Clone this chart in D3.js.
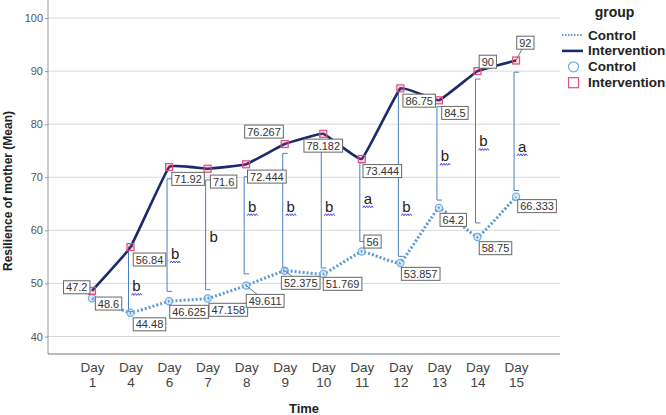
<!DOCTYPE html>
<html>
<head>
<meta charset="utf-8">
<script src="https://cdn.jsdelivr.net/npm/d3@7"></script>
<style>
body{margin:0;background:#fff;}
svg{display:block;font-family:"Liberation Sans",Arial,sans-serif;}
</style>
</head>
<body>
<div id="chart"></div>
<script>
(function(){
"use strict"

//---data---
var days = ["1","4","6","7","8","9","10","11","12","13","14","15"];
var control = [47.2,44.48,46.625,47.158,49.611,52.375,51.769,56,53.857,64.2,58.75,66.333];
var intervention = [48.6,56.84,71.92,71.6,72.444,76.267,78.182,73.444,86.75,84.5,90,92];
var yTicks = [40,50,60,70,80,90,100];

//significance letters, the span of each bracket and where the letter sits (in mean units)
var sigLetter = [null,"b","b","b","b","b","b","a","b","b","b","a"];
var sigMark = [false,true,true,false,true,true,true,true,true,true,true,true];
var bracketTop = [null,56.9,69.7,69.5,70.1,74.5,76,72.7,86.5,83.3,88.5,89.8];
var bracketBottom = [null,44.7,48.5,48.8,51.8,52.9,52.9,57.9,55.1,65.7,61.4,67.5];
var letterAt = [null,48.5,54.6,57.8,63.5,63.5,63.5,65,63.5,73,75.8,74.8];

//label box offsets from the point (px), third item = draw a leader
var ctrlOff = [[-15.2,-11],[19,11.6],[20,10.5],[20.7,11.3],[19,15.4,1],[16,12,1],[19.3,9.8],[10.7,-10],[20.3,10.9],[14.3,11.8],[18,11.2],[21,9.4]];
var intOff = [[16.6,12.7],[19,12.4],[19,11.8],[16,12.8],[20.7,12.3],[-20.7,-12.4],[0,11.8],[20.5,12.1],[18.8,12.3],[16,12.6],[10.3,-9.4],[9.3,-17.8,1]];

var W = 666, H = 415,
	plot = {left:48, right:560, top:0, bottom:354};

var ctrlCol = "#5b9bd5",
	intCol = "#1b2a6b",
	sqCol = "#e0507e",
	circCol = "#72aee6",
	bracketCol = "#4f7fbf";

var svg = d3.select('#chart').append('svg')
	.attr('width',W)
	.attr('height',H);

var x = d3.scalePoint().domain(days).range([plot.left,plot.right]).padding(1.14);
var y = d3.scaleLinear().domain([36.7,103.4]).range([plot.bottom,plot.top]);

//grid
svg.append('g').selectAll('line')
	.data(yTicks)
	.enter().append('line')
		.attr('x1',plot.left).attr('x2',plot.right)
		.attr('y1',function(d){return y(d);}).attr('y2',function(d){return y(d);})
		.style('stroke','#d9d9d9').style('stroke-width',1);

//y axis
var yAxis = svg.append('g')
	.attr('transform','translate('+plot.left+',0)')
	.call(d3.axisLeft(y).tickValues(yTicks).tickSize(3).tickFormat(d3.format('d')));
yAxis.select('.domain').remove();
yAxis.selectAll('.tick line').style('stroke','#999');
yAxis.selectAll('.tick text')
	.attr('x',-5)
	.style('font-family','"Liberation Sans",Arial,sans-serif')
	.style('font-size','11px').style('fill','#555');

//x axis
var xAxis = svg.append('g')
	.attr('transform','translate(0,'+plot.bottom+')')
	.call(d3.axisBottom(x).tickSize(0));
xAxis.select('.domain').remove();
xAxis.selectAll('.tick text').each(function(d){
	var t = d3.select(this).text('').attr('y',0).attr('dy',null)
		.style('font-family','"Liberation Sans",Arial,sans-serif')
		.style('font-size','13.5px').style('fill','#444');
	t.append('tspan').attr('x',0).attr('y',18).text('Day');
	t.append('tspan').attr('x',0).attr('y',32.5).text(d);
});

//frame lines
svg.append('line')
	.attr('x1',plot.left).attr('x2',plot.left)
	.attr('y1',plot.top).attr('y2',plot.bottom)
	.style('stroke','#999');
svg.append('line')
	.attr('x1',plot.left).attr('x2',plot.right)
	.attr('y1',plot.bottom).attr('y2',plot.bottom)
	.style('stroke','#777');

//brackets
var bIdx = d3.range(days.length).filter(function(i){return bracketTop[i]!==null;});
svg.append('g').selectAll('path')
	.data(bIdx)
	.enter().append('path')
		.attr('d',function(i){
			var bx = x(days[i])-2, t = y(bracketTop[i]), b = y(bracketBottom[i]);
			return 'M'+(bx+5)+','+t+'H'+bx+'V'+b+'H'+(bx+5);
		})
		.style('fill','none').style('stroke',bracketCol).style('stroke-width',1);

//lines
var line = function(vals){
	return d3.line()
		.x(function(d,i){return x(days[i]);})
		.y(function(d){return y(d);})
		.curve(d3.curveCardinal.tension(0.75))(vals);
};
svg.append('path')
	.attr('d',line(control))
	.style('fill','none').style('stroke',ctrlCol)
	.style('stroke-width',3).style('stroke-dasharray','2,2');
svg.append('path')
	.attr('d',line(intervention))
	.style('fill','none').style('stroke',intCol)
	.style('stroke-width',2.6);

//markers
svg.append('g').selectAll('circle')
	.data(control)
	.enter().append('circle')
		.attr('cx',function(d,i){return x(days[i]);})
		.attr('cy',function(d){return y(d);})
		.attr('r',3.6)
		.style('fill','rgba(114,174,230,0.25)').style('stroke',circCol).style('stroke-width',1.2);
svg.append('g').selectAll('rect')
	.data(intervention)
	.enter().append('rect')
		.attr('x',function(d,i){return x(days[i])-3.5;})
		.attr('y',function(d){return y(d)-3.5;})
		.attr('width',7).attr('height',7)
		.style('fill','rgba(224,80,126,0.2)').style('stroke',sqCol).style('stroke-width',1.2);

//letters
var lg = svg.append('g');
bIdx.forEach(function(i){
	var lx = x(days[i])+6, ly = y(letterAt[i]);
	lg.append('text')
		.attr('x',lx).attr('y',ly)
		.attr('text-anchor','middle')
		.style('font-size','15px').style('fill','#222')
		.text(sigLetter[i]);
	if (sigMark[i]){
		var pts = [];
		for (var k=0; k<=8; k++){pts.push([lx-5+k*1.3, ly+3+(k%2? -1 : 1)]);}
		lg.append('path')
			.attr('d',d3.line()(pts))
			.style('fill','none').style('stroke','#3a3ad8').style('stroke-width',0.9);
	}
});

//value labels
var labels = [];
control.forEach(function(v,i){labels.push({v:v,i:i,o:ctrlOff[i]});});
intervention.forEach(function(v,i){labels.push({v:v,i:i,o:intOff[i]});});

var leaders = svg.append('g');
var boxes = svg.append('g');
labels.forEach(function(l){
	var px = x(days[l.i]), py = y(l.v),
		cx = px+l.o[0], cy = py+l.o[1];
	if (l.o[2]){
		leaders.append('line')
			.attr('x1',px).attr('y1',py).attr('x2',cx).attr('y2',cy)
			.style('stroke','#555').style('stroke-width',0.8);
	}
	var g = boxes.append('g');
	var r = g.append('rect');
	var t = g.append('text')
		.attr('x',cx).attr('y',cy+4)
		.attr('text-anchor','middle')
		.style('font-size','11px').style('fill','#333')
		.text(String(l.v));
	var w = t.node().getComputedTextLength()+5;
	r.attr('x',cx-w/2).attr('y',cy-6.5)
		.attr('width',w).attr('height',13)
		.style('fill','#fff').style('stroke','#666').style('stroke-width',1);
});

//axis titles
svg.append('text')
	.attr('transform','translate(12,191) rotate(-90)')
	.attr('text-anchor','middle')
	.style('font-size','12px').style('font-weight','bold').style('fill','#222')
	.text('Resilience of mother (Mean)');
svg.append('text')
	.attr('x',304).attr('y',413)
	.attr('text-anchor','middle')
	.style('font-size','13px').style('font-weight','bold').style('fill','#222')
	.text('Time');

//legend
var leg = svg.append('g');
leg.append('text')
	.attr('x',614.5).attr('y',16.5)
	.attr('text-anchor','middle')
	.style('font-size','14px').style('font-weight','bold').style('fill','#222')
	.text('group');
var legItems = [
	{name:'Control', kind:'dot'},
	{name:'Intervention', kind:'solid'},
	{name:'Control', kind:'circle'},
	{name:'Intervention', kind:'square'}
];
legItems.forEach(function(d,k){
	var cy = 35+k*15.9;
	if (d.kind==='dot'){
		leg.append('line').attr('x1',562).attr('x2',583).attr('y1',cy).attr('y2',cy)
			.style('stroke',ctrlCol).style('stroke-width',2).style('stroke-dasharray','1.5,1.5');
	} else if (d.kind==='solid'){
		leg.append('line').attr('x1',562).attr('x2',583).attr('y1',cy).attr('y2',cy)
			.style('stroke',intCol).style('stroke-width',2.6);
	} else if (d.kind==='circle'){
		leg.append('circle').attr('cx',573.5).attr('cy',cy).attr('r',5)
			.style('fill','none').style('stroke',circCol).style('stroke-width',1.2);
	} else {
		leg.append('rect').attr('x',568.5).attr('y',cy-5).attr('width',10).attr('height',10)
			.style('fill','none').style('stroke',sqCol).style('stroke-width',1.2);
	}
	leg.append('text')
		.attr('x',588).attr('y',cy+4.5)
		.style('font-size','13.5px').style('font-weight','bold').style('fill','#222')
		.text(d.name);
});

})();
</script>
</body>
</html>
